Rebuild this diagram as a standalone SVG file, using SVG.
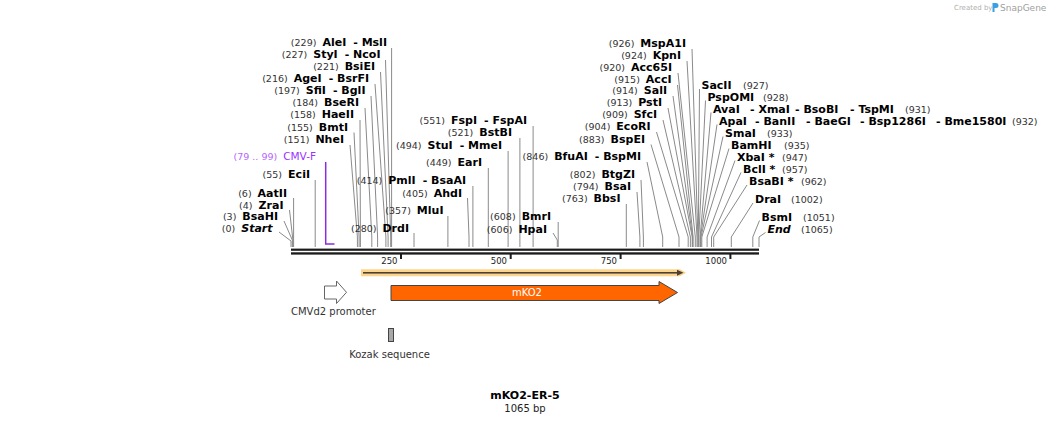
<svg xmlns="http://www.w3.org/2000/svg" width="1051" height="424" viewBox="0 0 1051 424">
<style>
text{font-family:"DejaVu Sans",Verdana,sans-serif}
.e{font-size:11px;font-weight:bold;fill:#000}
.L{text-anchor:end}
.n{font-weight:normal;font-size:9.5px;fill:#333}
.i{font-style:italic}
.ld{fill:none;stroke:#8a8a8a;stroke-width:1}
.f{font-size:10px;fill:#333}
.tk{font-size:8.5px;fill:#222;text-anchor:end}
</style>
<rect width="1051" height="424" fill="#fff"/>
<g id="watermark">
<text x="954" y="10" style="font-size:7px;fill:#b0b0b0">Created by</text>
<path d="M992.5,3 h3.5 a2.5,2.5 0 0 1 0,5 h-1.5 v4 h-2 z" fill="#3aa0e0"/>
<text x="1000" y="10.5" style="font-size:9px;fill:#a0a0a0">SnapGene</text>
</g>
<g id="connectors">
<polyline class="ld" points="391.6,48 391.6,247"/>
<polyline class="ld" points="385.5,60 390.7,237 390.7,247"/>
<polyline class="ld" points="380.5,72 388.1,237 388.1,247"/>
<polyline class="ld" points="375,84 385.9,237 385.9,247"/>
<polyline class="ld" points="371,96 377.6,237 377.6,247"/>
<polyline class="ld" points="365,108 371.8,237 371.8,247"/>
<polyline class="ld" points="360,120 360.4,237 360.4,247"/>
<polyline class="ld" points="354,132.5 359.1,237 359.1,247"/>
<polyline class="ld" points="350,145 357.4,237 357.4,247"/>
<polyline class="ld" points="315.2,180 315.2,247"/>
<polyline class="ld" points="293.6,198 293.6,247"/>
<polyline class="ld" points="289.5,210 292.8,239 292.8,247"/>
<polyline class="ld" points="284,221 292.3,240 292.3,247"/>
<polyline class="ld" points="279,232 291,241 291,247"/>
<polyline class="ld" points="533.1,126 533.1,247"/>
<polyline class="ld" points="519.9,138 519.9,247"/>
<polyline class="ld" points="508.1,151 508.1,247"/>
<polyline class="ld" points="488.3,168 488.3,247"/>
<polyline class="ld" points="472.9,186 472.9,247"/>
<polyline class="ld" points="467.5,198 469,237 469,247"/>
<polyline class="ld" points="447.9,216 447.9,247"/>
<polyline class="ld" points="414,233 414,247"/>
<polyline class="ld" points="558.2,222 558.2,247"/>
<polyline class="ld" points="553,233 557.3,240 557.3,247"/>
<polyline class="ld" points="692,49 697.9,237 697.9,247"/>
<polyline class="ld" points="687,61 697,237 697,247"/>
<polyline class="ld" points="678,73 695.3,237 695.3,247"/>
<polyline class="ld" points="677.5,85 693.1,237 693.1,247"/>
<polyline class="ld" points="673,96 692.6,237 692.6,247"/>
<polyline class="ld" points="668,108 692.2,237 692.2,247"/>
<polyline class="ld" points="663,120 690.4,237 690.4,247"/>
<polyline class="ld" points="656.5,132 688.2,237 688.2,247"/>
<polyline class="ld" points="651,144.5 679,237 679,247"/>
<polyline class="ld" points="647,162 662.7,237 662.7,247"/>
<polyline class="ld" points="641,180 643.4,237 643.4,247"/>
<polyline class="ld" points="637,192 639.9,237 639.9,247"/>
<polyline class="ld" points="626.3,204 626.3,247"/>
<polyline class="ld" points="699.5,89 698.3,237 698.3,247"/>
<polyline class="ld" points="705.5,100.5 698.8,237 698.8,247"/>
<polyline class="ld" points="711,112.5 700.1,237 700.1,247"/>
<polyline class="ld" points="717,124.5 700.5,237 700.5,247"/>
<polyline class="ld" points="723,136.5 701,237 701,247"/>
<polyline class="ld" points="729,148.5 701.8,237 701.8,247"/>
<polyline class="ld" points="735,160.5 707.1,237 707.1,247"/>
<polyline class="ld" points="741,172.5 711.5,237 711.5,247"/>
<polyline class="ld" points="747,185 713.7,237 713.7,247"/>
<polyline class="ld" points="753,203 731.3,237 731.3,247"/>
<polyline class="ld" points="759.5,220.5 752.8,237 752.8,247"/>
<polyline class="ld" points="765.5,232.5 759,237 759,247"/>
<polyline points="325.7,162 325.7,244 334.5,244" fill="none" stroke="#8a2be2" stroke-width="1.5"/>
</g>
<g id="backbone">
<rect x="291" y="248.6" width="468" height="2.2" fill="#1a1a1a"/>
<rect x="291" y="252.3" width="468" height="2.3" fill="#1a1a1a"/>
<rect x="400" y="254" width="2" height="5" fill="#1a1a1a"/>
<rect x="509.7" y="254" width="2" height="5" fill="#1a1a1a"/>
<rect x="619.6" y="254" width="2" height="5" fill="#1a1a1a"/>
<rect x="729.4" y="254" width="2" height="5" fill="#1a1a1a"/>
<text class="tk" x="397.5" y="264">250</text>
<text class="tk" x="507" y="264">500</text>
<text class="tk" x="617" y="264">750</text>
<text class="tk" x="727" y="264">1000</text>
</g>
<g id="sites-left">
<text class="e L" x="387" y="46"><tspan class="n">(229)</tspan><tspan dx="6">AleI</tspan><tspan dx="7">- MslI</tspan></text>
<text class="e L" x="380.5" y="58"><tspan class="n">(227)</tspan><tspan dx="6">StyI</tspan><tspan dx="7">- NcoI</tspan></text>
<text class="e L" x="375" y="70"><tspan class="n">(221)</tspan><tspan dx="6">BsiEI</tspan></text>
<text class="e L" x="369" y="82"><tspan class="n">(216)</tspan><tspan dx="6">AgeI</tspan><tspan dx="7">- BsrFI</tspan></text>
<text class="e L" x="365.5" y="94"><tspan class="n">(197)</tspan><tspan dx="6">SfiI</tspan><tspan dx="7">- BglI</tspan></text>
<text class="e L" x="359" y="106"><tspan class="n">(184)</tspan><tspan dx="6">BseRI</tspan></text>
<text class="e L" x="354" y="118"><tspan class="n">(158)</tspan><tspan dx="6">HaeII</tspan></text>
<text class="e L" x="348" y="130.5"><tspan class="n">(155)</tspan><tspan dx="6">BmtI</tspan></text>
<text class="e L" x="344" y="143"><tspan class="n">(151)</tspan><tspan dx="6">NheI</tspan></text>
<text class="L" x="316" y="160" style="font-size:10.5px;fill:#9933ff"><tspan style="font-size:9.5px;fill:#b366ff">(79 .. 99)</tspan><tspan dx="6">CMV-F</tspan></text>
<text class="e L" x="310" y="178"><tspan class="n">(55)</tspan><tspan dx="6">EciI</tspan></text>
<text class="e L" x="287" y="196.5"><tspan class="n">(6)</tspan><tspan dx="6">AatII</tspan></text>
<text class="e L" x="283.5" y="208.5"><tspan class="n">(4)</tspan><tspan dx="6">ZraI</tspan></text>
<text class="e L" x="278" y="220"><tspan class="n">(3)</tspan><tspan dx="6">BsaHI</tspan></text>
<text class="e L" x="272.5" y="232"><tspan class="n">(0)</tspan><tspan dx="6" class="i">Start</tspan></text>
</g>
<g id="sites-middle">
<text class="e L" x="527" y="124"><tspan class="n">(551)</tspan><tspan dx="6">FspI</tspan><tspan dx="7">- FspAI</tspan></text>
<text class="e L" x="512" y="136"><tspan class="n">(521)</tspan><tspan dx="6">BstBI</tspan></text>
<text class="e L" x="502" y="149"><tspan class="n">(494)</tspan><tspan dx="6">StuI</tspan><tspan dx="7">- MmeI</tspan></text>
<text class="e L" x="482" y="166"><tspan class="n">(449)</tspan><tspan dx="6">EarI</tspan></text>
<text class="e L" x="466" y="184"><tspan class="n">(414)</tspan><tspan dx="6">PmlI</tspan><tspan dx="7">- BsaAI</tspan></text>
<text class="e L" x="462" y="196.5"><tspan class="n">(405)</tspan><tspan dx="6">AhdI</tspan></text>
<text class="e L" x="443.5" y="214"><tspan class="n">(357)</tspan><tspan dx="6">MluI</tspan></text>
<text class="e L" x="409" y="232"><tspan class="n">(280)</tspan><tspan dx="6">DrdI</tspan></text>
<text class="e L" x="551" y="220"><tspan class="n">(608)</tspan><tspan dx="6">BmrI</tspan></text>
<text class="e L" x="547" y="232.5"><tspan class="n">(606)</tspan><tspan dx="6">HpaI</tspan></text>
</g>
<g id="sites-mcs-left">
<text class="e L" x="686" y="47"><tspan class="n">(926)</tspan><tspan dx="6">MspA1I</tspan></text>
<text class="e L" x="681" y="59"><tspan class="n">(924)</tspan><tspan dx="6">KpnI</tspan></text>
<text class="e L" x="672" y="71"><tspan class="n">(920)</tspan><tspan dx="6">Acc65I</tspan></text>
<text class="e L" x="671.5" y="82.5"><tspan class="n">(915)</tspan><tspan dx="6">AccI</tspan></text>
<text class="e L" x="667" y="94"><tspan class="n">(914)</tspan><tspan dx="6">SalI</tspan></text>
<text class="e L" x="662" y="106"><tspan class="n">(913)</tspan><tspan dx="6">PstI</tspan></text>
<text class="e L" x="657" y="118"><tspan class="n">(909)</tspan><tspan dx="6">SfcI</tspan></text>
<text class="e L" x="650.5" y="130"><tspan class="n">(904)</tspan><tspan dx="6">EcoRI</tspan></text>
<text class="e L" x="645" y="142.5"><tspan class="n">(883)</tspan><tspan dx="6">BspEI</tspan></text>
<text class="e L" x="641" y="160"><tspan class="n">(846)</tspan><tspan dx="6">BfuAI</tspan><tspan dx="7">- BspMI</tspan></text>
<text class="e L" x="635" y="177.5"><tspan class="n">(802)</tspan><tspan dx="6">BtgZI</tspan></text>
<text class="e L" x="631" y="189.5"><tspan class="n">(794)</tspan><tspan dx="6">BsaI</tspan></text>
<text class="e L" x="620.5" y="202"><tspan class="n">(763)</tspan><tspan dx="6">BbsI</tspan></text>
</g>
<g id="sites-right">
<text class="e" y="89"><tspan x="701.5">SacII</tspan><tspan class="n" x="743">(927)</tspan></text>
<text class="e" y="100.5"><tspan x="707.5">PspOMI</tspan><tspan class="n" x="763">(928)</tspan></text>
<text class="e" y="112.5"><tspan x="713">AvaI</tspan><tspan x="750">- XmaI</tspan><tspan x="795">- BsoBI</tspan><tspan x="850">- TspMI</tspan><tspan class="n" x="905">(931)</tspan></text>
<text class="e" y="124.5"><tspan x="719">ApaI</tspan><tspan x="755">- BanII</tspan><tspan x="806">- BaeGI</tspan><tspan x="860">- Bsp1286I</tspan><tspan x="936">- Bme1580I</tspan><tspan class="n" x="1012">(932)</tspan></text>
<text class="e" y="136.5"><tspan x="725">SmaI</tspan><tspan class="n" x="767">(933)</tspan></text>
<text class="e" y="148.5"><tspan x="731">BamHI</tspan><tspan class="n" x="784">(935)</tspan></text>
<text class="e" y="160.5"><tspan x="737">XbaI *</tspan><tspan class="n" x="782">(947)</tspan></text>
<text class="e" y="172.5"><tspan x="743">BclI *</tspan><tspan class="n" x="782">(957)</tspan></text>
<text class="e" y="185"><tspan x="749">BsaBI *</tspan><tspan class="n" x="801">(962)</tspan></text>
<text class="e" y="203"><tspan x="755">DraI</tspan><tspan class="n" x="791">(1002)</tspan></text>
<text class="e" y="220.5"><tspan x="761.5">BsmI</tspan><tspan class="n" x="803">(1051)</tspan></text>
<text class="e" y="232.5"><tspan x="767.5" class="i">End</tspan><tspan class="n" x="801">(1065)</tspan></text>
</g>
<g id="orf">
<path d="M361,269.3 H680 L686,272.8 L680,276.3 H361 Z" fill="#fcd48c"/>
<rect x="363" y="272" width="315" height="1.6" fill="#4a4035"/>
<path d="M677,269.8 L683.5,272.8 L677,275.8 Z" fill="#4a4035"/>
</g>
<g id="mKO2">
<path d="M391,285.5 H659 V281.5 L677.5,292.5 L659,303.5 V300.5 H391 Z" fill="#ff6600" stroke="#444" stroke-width="1"/>
<text x="527" y="295.5" text-anchor="middle" style="font-size:10px;fill:#fff">mKO2</text>
</g>
<g id="cmvd2-promoter">
<path d="M324.5,286 H336.5 V281 L346.5,292.3 L336.5,303.5 V299 H324.5 Z" fill="#fff" stroke="#666" stroke-width="1"/>
<text class="f" x="291" y="315">CMVd2 promoter</text>
</g>
<g id="kozak">
<rect x="388.5" y="328.5" width="5" height="13" fill="#a8a8a8" stroke="#444" stroke-width="1"/>
<text class="f" x="389.5" y="358" text-anchor="middle">Kozak sequence</text>
</g>
<g id="title">
<text x="525" y="399" text-anchor="middle" style="font-size:11px;font-weight:bold;fill:#000">mKO2-ER-5</text>
<text x="525" y="411.5" text-anchor="middle" style="font-size:10px;fill:#222">1065 bp</text>
</g>
</svg>
